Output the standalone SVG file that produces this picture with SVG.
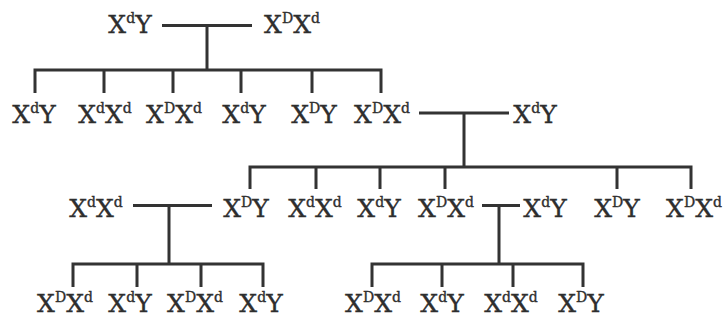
<svg xmlns="http://www.w3.org/2000/svg" width="726" height="320" viewBox="0 0 726 320">
<style>
text{font-family:"DejaVu Serif","Liberation Serif",serif;font-size:25px;fill:#2e2e2e;stroke:#2e2e2e;stroke-width:0.35;text-anchor:middle}
.s{font-size:14px}
.c{stroke:#333;stroke-width:3;fill:none;stroke-linecap:butt}
</style>
<rect width="726" height="320" fill="#fff"/>
<g id="connectors" class="c">
<path d="M162 25.5H252M207 25.5V70M33.5 70H382.5M35 70V93M104 70V93M173 70V93M241 70V93M312 70V93M381 70V93"/>
<path d="M419 113H509M464 113V167M248.5 167H692.5M250 167V189M316 167V189M380 167V189M445 167V189M617 167V189M691 167V189"/>
<path d="M133 205.5H212M169 205.5V264M71.5 264H264.5M73 264V287M137 264V287M201 264V287M263 264V287"/>
<path d="M482 205.5H520M499 205.5V264M370.5 264H584.5M372 264V287M442 264V287M513 264V287M583 264V287"/>
</g>
<g id="g1-father"><text x="130" y="33">X<tspan class="s" dy="-10">d</tspan><tspan dy="10">Y</tspan></text></g>
<g id="g1-mother"><text x="292" y="33">X<tspan class="s" dy="-10">D</tspan><tspan dy="10">X</tspan><tspan class="s" dy="-10">d</tspan></text></g>
<g id="g2-1"><text x="34" y="123">X<tspan class="s" dy="-10">d</tspan><tspan dy="10">Y</tspan></text></g>
<g id="g2-2"><text x="105" y="123">X<tspan class="s" dy="-10">d</tspan><tspan dy="10">X</tspan><tspan class="s" dy="-10">d</tspan></text></g>
<g id="g2-3"><text x="174" y="123">X<tspan class="s" dy="-10">D</tspan><tspan dy="10">X</tspan><tspan class="s" dy="-10">d</tspan></text></g>
<g id="g2-4"><text x="244" y="123">X<tspan class="s" dy="-10">d</tspan><tspan dy="10">Y</tspan></text></g>
<g id="g2-5"><text x="314" y="123">X<tspan class="s" dy="-10">D</tspan><tspan dy="10">Y</tspan></text></g>
<g id="g2-6"><text x="382" y="123">X<tspan class="s" dy="-10">D</tspan><tspan dy="10">X</tspan><tspan class="s" dy="-10">d</tspan></text></g>
<g id="g2-spouse"><text x="535" y="123">X<tspan class="s" dy="-10">d</tspan><tspan dy="10">Y</tspan></text></g>
<g id="g3-spouse-left"><text x="96" y="217">X<tspan class="s" dy="-10">d</tspan><tspan dy="10">X</tspan><tspan class="s" dy="-10">d</tspan></text></g>
<g id="g3-1"><text x="246" y="217">X<tspan class="s" dy="-10">D</tspan><tspan dy="10">Y</tspan></text></g>
<g id="g3-2"><text x="315" y="217">X<tspan class="s" dy="-10">d</tspan><tspan dy="10">X</tspan><tspan class="s" dy="-10">d</tspan></text></g>
<g id="g3-3"><text x="379" y="217">X<tspan class="s" dy="-10">d</tspan><tspan dy="10">Y</tspan></text></g>
<g id="g3-4"><text x="446" y="217">X<tspan class="s" dy="-10">D</tspan><tspan dy="10">X</tspan><tspan class="s" dy="-10">d</tspan></text></g>
<g id="g3-spouse-right"><text x="545" y="217">X<tspan class="s" dy="-10">d</tspan><tspan dy="10">Y</tspan></text></g>
<g id="g3-5"><text x="617" y="217">X<tspan class="s" dy="-10">D</tspan><tspan dy="10">Y</tspan></text></g>
<g id="g3-6"><text x="694" y="217">X<tspan class="s" dy="-10">D</tspan><tspan dy="10">X</tspan><tspan class="s" dy="-10">d</tspan></text></g>
<g id="g4-1"><text x="65" y="312">X<tspan class="s" dy="-10">D</tspan><tspan dy="10">X</tspan><tspan class="s" dy="-10">d</tspan></text></g>
<g id="g4-2"><text x="130" y="312">X<tspan class="s" dy="-10">d</tspan><tspan dy="10">Y</tspan></text></g>
<g id="g4-3"><text x="195" y="312">X<tspan class="s" dy="-10">D</tspan><tspan dy="10">X</tspan><tspan class="s" dy="-10">d</tspan></text></g>
<g id="g4-4"><text x="261" y="312">X<tspan class="s" dy="-10">d</tspan><tspan dy="10">Y</tspan></text></g>
<g id="g4-5"><text x="373" y="312">X<tspan class="s" dy="-10">D</tspan><tspan dy="10">X</tspan><tspan class="s" dy="-10">d</tspan></text></g>
<g id="g4-6"><text x="442" y="312">X<tspan class="s" dy="-10">d</tspan><tspan dy="10">Y</tspan></text></g>
<g id="g4-7"><text x="511" y="312">X<tspan class="s" dy="-10">d</tspan><tspan dy="10">X</tspan><tspan class="s" dy="-10">d</tspan></text></g>
<g id="g4-8"><text x="581" y="312">X<tspan class="s" dy="-10">D</tspan><tspan dy="10">Y</tspan></text></g>
</svg>
